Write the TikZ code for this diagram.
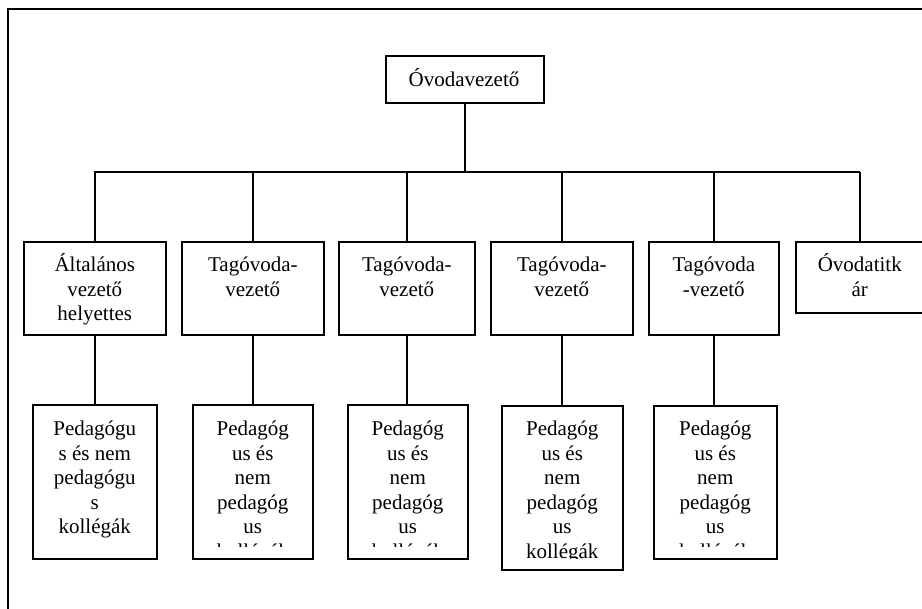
\documentclass[tikz,border=0pt]{standalone}
\usepackage{fontspec}
\setmainfont{Liberation Serif}
\begin{document}
\begin{tikzpicture}[x=1pt,y=-1pt,
  box/.style={draw, line width=1.6pt, inner sep=0pt, anchor=north west},
  lbl/.style={inner sep=0pt, anchor=base, font=\fontsize{21}{24.5}\selectfont},
  busline/.style={line width=2.4pt},
  dropline/.style={line width=1.7pt}]
\clip (0,0) rectangle (922,609);
% frame
\draw[line width=1.6pt] (8,640) -- (8,9) -- (940,9);
% top
\node[box, minimum width=158pt, minimum height=47pt] (title) at (385,55) {};
\node[lbl] (titlet) at (464,87) {Óvodavezető};
% second row
\node[box, minimum width=142pt, minimum height=93pt] (a1) at (23,241) {};
\node[box, minimum width=142pt, minimum height=93pt] (a2) at (181,241) {};
\node[box, minimum width=136pt, minimum height=93pt] (a3) at (338,241) {};
\node[box, minimum width=142pt, minimum height=93pt] (a4) at (490,241) {};
\node[box, minimum width=130pt, minimum height=93pt] (a5) at (648,241) {};
\node[box, minimum width=128pt, minimum height=71pt] (a6) at (795,241) {};
\node[lbl] (a1t) at (a1.north |- 0,272) {\begin{tabular}[t]{@{}c@{}}Általános\\vezető\\helyettes\end{tabular}};
\node[lbl] (a2t) at (a2.north |- 0,272) {\begin{tabular}[t]{@{}c@{}}Tagóvoda-\\vezető\end{tabular}};
\node[lbl] (a3t) at (a3.north |- 0,272) {\begin{tabular}[t]{@{}c@{}}Tagóvoda-\\vezető\end{tabular}};
\node[lbl] (a4t) at (a4.north |- 0,272) {\begin{tabular}[t]{@{}c@{}}Tagóvoda-\\vezető\end{tabular}};
\node[lbl] (a5t) at (a5.north |- 0,272) {\begin{tabular}[t]{@{}c@{}}Tagóvoda\\-vezető\end{tabular}};
\node[lbl] (a6t) at (a6.north |- 0,272) {\begin{tabular}[t]{@{}c@{}}Óvodatitk\\ár\end{tabular}};
% third row
\node[box, minimum width=124pt, minimum height=154pt] (p1) at (32,404) {};
\node[box, minimum width=120pt, minimum height=154pt] (p2) at (192,404) {};
\node[box, minimum width=120pt, minimum height=154pt] (p3) at (347,404) {};
\node[box, minimum width=121pt, minimum height=164pt] (p4) at (501,405) {};
\node[box, minimum width=123pt, minimum height=153pt] (p5) at (653,405) {};
\node[lbl] (p1t) at (p1.north |- 0,436) {\begin{tabular}[t]{@{}c@{}}Pedagógu\\s és nem\\pedagógu\\s\\kollégák\end{tabular}};
\begin{scope}
\clip (192,404) rectangle (312,547);
\node[lbl] (p2t) at (p2.north |- 0,436) {\begin{tabular}[t]{@{}c@{}}Pedagóg\\us és\\nem\\pedagóg\\us\\kollégák\end{tabular}};
\end{scope}
\begin{scope}
\clip (347,404) rectangle (467,547);
\node[lbl] (p3t) at (p3.north |- 0,436) {\begin{tabular}[t]{@{}c@{}}Pedagóg\\us és\\nem\\pedagóg\\us\\kollégák\end{tabular}};
\end{scope}
\begin{scope}
\clip (501,405) rectangle (622,559);
\node[lbl] (p4t) at (p4.north |- 0,436) {\begin{tabular}[t]{@{}c@{}}Pedagóg\\us és\\nem\\pedagóg\\us\\kollégák\end{tabular}};
\end{scope}
\begin{scope}
\clip (653,405) rectangle (776,547);
\node[lbl] (p5t) at (p5.north |- 0,436) {\begin{tabular}[t]{@{}c@{}}Pedagóg\\us és\\nem\\pedagóg\\us\\kollégák\end{tabular}};
\end{scope}
% connectors
\coordinate (busL) at (94,172);
\coordinate (busR) at (860,172);
\draw[busline] (title.south) -- (title.south |- busL);
\draw[busline] (busL) -- (busR);
\foreach \n in {a1,a2,a3,a4,a5,a6}
  \draw[dropline] (\n.north |- busL) -- (\n.north);
\foreach \a/\p in {a1/p1,a2/p2,a3/p3,a4/p4,a5/p5}
  \draw[dropline] (\a.south) -- (\a.south |- \p.north);
\end{tikzpicture}
\end{document}
